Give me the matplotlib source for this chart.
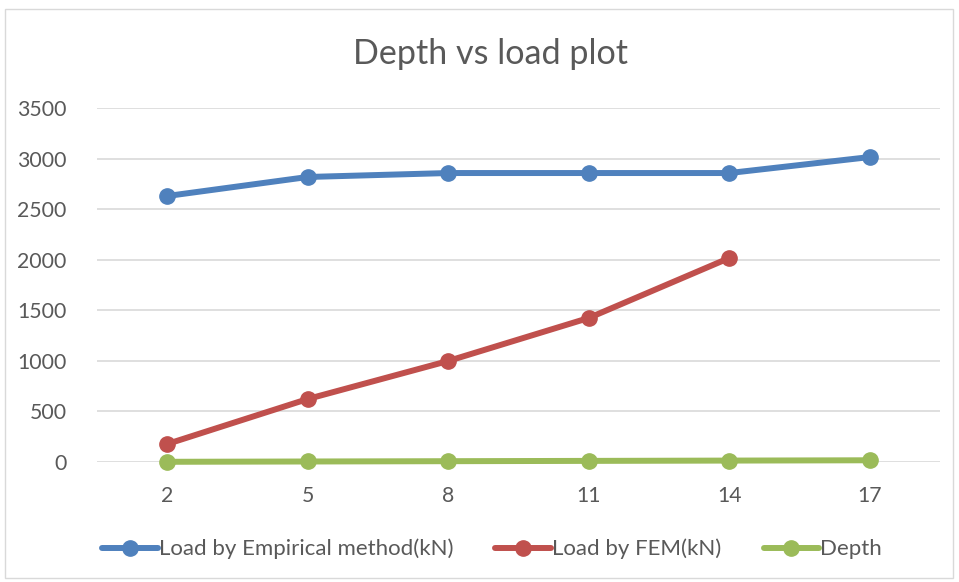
import matplotlib
matplotlib.use("Agg")
import matplotlib.pyplot as plt
from matplotlib.patches import Rectangle

plt.rcParams['font.family'] = ['Lato', 'DejaVu Sans']

depth_labels = ['2', '5', '8', '11', '14', '17']
load_empirical = [2630, 2818, 2857, 2857, 2857, 3015]
load_fem = [178, 623, 999, 1424, 2017]
depth = [2, 5, 8, 11, 14, 17]

blue = '#4F81BD'
red = '#C0504D'
green = '#9BBB59'
text_col = '#595959'

fig = plt.figure(figsize=(9.59, 5.82), dpi=100)
fig.patches.append(Rectangle((5 / 959, 4 / 582), 948 / 959, 569 / 582,
                             transform=fig.transFigure, fill=False,
                             edgecolor='#D9D9D9', linewidth=1))
ax = fig.add_axes([97 / 959, 1 - 462 / 582, 843 / 959, 354 / 582])

x = list(range(len(depth_labels)))
style = dict(linewidth=4.3, marker='o', markersize=11, solid_capstyle='round',
             clip_on=False)
ax.plot(x, load_empirical, color=blue, label='Load by Empirical method(kN)', **style)
ax.plot(x[:len(load_fem)], load_fem, color=red, label='Load by FEM(kN)', **style)
ax.plot(x, depth, color=green, label='Depth', **style)

ax.set_xlim(-0.5, len(x) - 0.5)
ax.set_ylim(0, 3500)
ax.set_yticks(range(0, 3501, 500))
ax.set_xticks(x)
ax.set_xticklabels(depth_labels)
ax.grid(axis='y', color='#D9D9D9', linewidth=1.2)
ax.set_axisbelow(True)
for s in ax.spines.values():
    s.set_visible(False)
ax.tick_params(length=0, labelsize=15.3, labelcolor=text_col)
ax.tick_params(axis='y', pad=22)
ax.tick_params(axis='x', pad=17)

fig.text(490 / 959, 1 - 54 / 582, 'Depth vs load plot', ha='center', va='center',
         fontsize=24.6, color=text_col)

ax.legend(loc='center', bbox_to_anchor=((492 - 97) / 843, (462 - 549) / 354), ncol=3,
          frameon=False, fontsize=16, labelcolor=text_col, handlelength=2.5,
          handletextpad=0.05, columnspacing=1.9)

fig.savefig('out.png', dpi=100)
